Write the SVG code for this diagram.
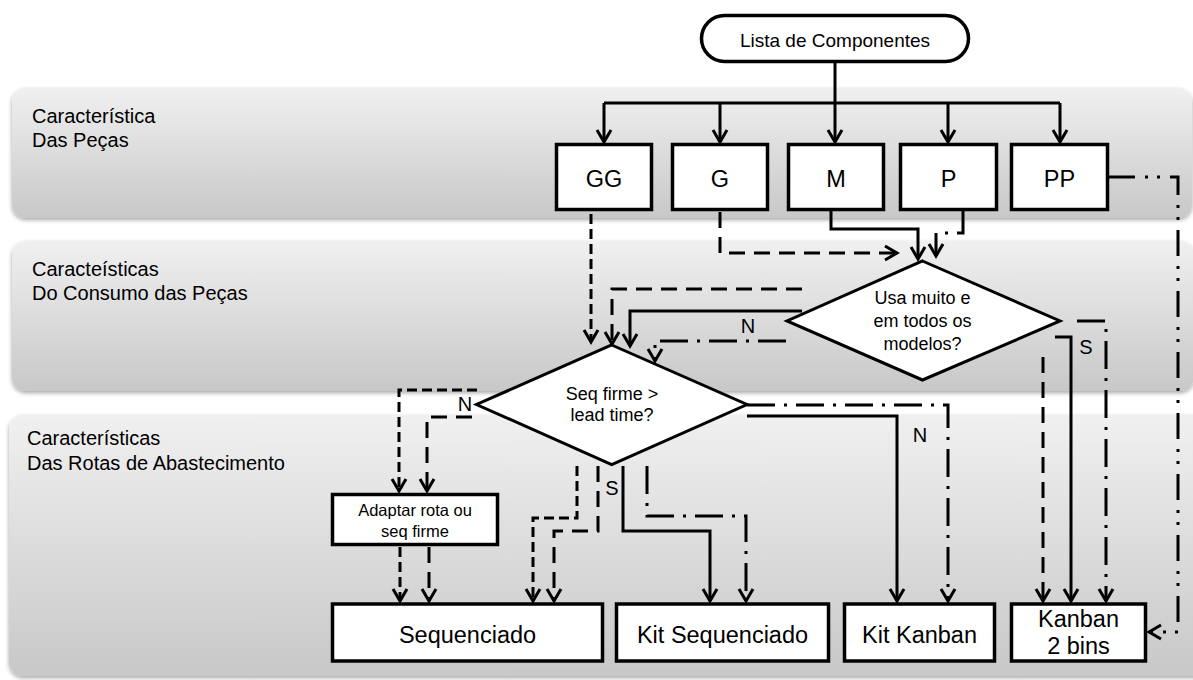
<svg xmlns="http://www.w3.org/2000/svg" width="1193" height="680" viewBox="0 0 1193 680">
  <defs>
    <linearGradient id="bandFill" x1="0" y1="0" x2="0" y2="1">
      <stop offset="0" stop-color="#f0f0f0"/>
      <stop offset="1" stop-color="#c8c8c8"/>
    </linearGradient>
    <filter id="bandShadow" x="-2%" y="-10%" width="104%" height="125%">
      <feDropShadow dx="0" dy="2" stdDeviation="2" flood-color="#000" flood-opacity="0.35"/>
    </filter>
    <marker id="arrow" viewBox="-16 -10 19 20" markerWidth="19" markerHeight="20" refX="0" refY="0" orient="auto" markerUnits="userSpaceOnUse">
      <path d="M-12,-7 L0,0 L-12,7" fill="none" stroke="#000" stroke-width="3"/>
    </marker>
    <style>
      .band { fill: url(#bandFill); filter: url(#bandShadow); }
      .band-label { font-family: "Liberation Sans", Arial, sans-serif; font-size: 20px; fill: #000; }
      .box { fill: #fff; stroke: #000; stroke-width: 3.5; }
      .dec { fill: #fff; stroke: #000; stroke-width: 3; stroke-linejoin: miter; }
      .t { font-family: "Liberation Sans", Arial, sans-serif; fill: #000; text-anchor: middle; }
      .big { font-size: 23.5px; }
      .mid { font-size: 18px; }
      .yn { font-family: "Liberation Sans", Arial, sans-serif; font-size: 20px; fill: #000; text-anchor: middle; }
      .c { fill: none; stroke: #000; stroke-width: 3; }
      .arr { marker-end: url(#arrow); }
      .dash-s { stroke-dasharray: 10 5; }
      .dash-l { stroke-dasharray: 16 9; }
      .dashdot { stroke-dasharray: 28 9 3 9; }
      .dashdotdot { stroke-dasharray: 26 10 3 9 3 10; }
    </style>
  </defs>

  <!-- swim-lane bands -->
  <g id="lanes">
    <rect class="band" x="12" y="88" width="1180" height="130" rx="14"/>
    <rect class="band" x="12" y="241" width="1182" height="150" rx="14"/>
    <rect class="band" x="9" y="415" width="1200" height="261" rx="14"/>
    <text class="band-label" x="32" y="123">Característica</text>
    <text class="band-label" x="32" y="147">Das Peças</text>
    <text class="band-label" x="32" y="276">Caracteísticas</text>
    <text class="band-label" x="32" y="300">Do Consumo das Peças</text>
    <text class="band-label" x="27" y="445">Características</text>
    <text class="band-label" x="27" y="470">Das Rotas de Abastecimento</text>
  </g>

  <!-- connectors -->
  <g id="connectors">
    <!-- distribution from the component list -->
    <path class="c" d="M835,62 V103"/>
    <path class="c" d="M604,103 H1060"/>
    <path class="c arr" d="M604,103 V142"/>
    <path class="c arr" d="M720,103 V142"/>
    <path class="c arr" d="M835,103 V142"/>
    <path class="c arr" d="M948,103 V142"/>
    <path class="c arr" d="M1060,103 V142"/>

    <!-- parts to decisions -->
    <path class="c arr dash-s" d="M591,214 V342"/>
    <path class="c arr dash-l" d="M720,212 V253 H897"/>
    <path class="c arr" d="M831,211 V229 H918 V259"/>
    <path class="c arr dashdot" d="M963,211 V233 H936 V256"/>
    <path class="c arr dashdotdot" d="M1109,177 H1178 V632 H1149"/>

    <!-- usage decision: N branch -->
    <path class="c arr dash-l" d="M802,289 H612 V344"/>
    <path class="c arr" d="M802,311 H630 V346"/>
    <path class="c arr dashdot" d="M786,341 H655 V361"/>

    <!-- usage decision: S branch -->
    <path class="c arr dashdot" d="M1077,321 H1106 V601"/>
    <path class="c arr" d="M1055,337 H1071 V601"/>
    <path class="c arr dash-l" d="M1043,357 V601"/>

    <!-- sequence decision: N to the left -->
    <path class="c arr dash-s" d="M477,390 H399 V491"/>
    <path class="c arr dash-l" d="M472,417 H427 V491"/>
    <path class="c arr dash-s" d="M400,547 V601"/>
    <path class="c arr dash-l" d="M429,547 V601"/>

    <!-- sequence decision: S downward -->
    <path class="c arr dash-s" d="M577,466 V518 H533 V601"/>
    <path class="c arr dash-l" d="M598,466 V531 H554 V601"/>
    <path class="c arr" d="M623,466 V531 H710 V601"/>
    <path class="c arr dashdot" d="M647,466 V516 H746 V601"/>

    <!-- sequence decision: N to the right -->
    <path class="c arr dashdot" d="M747,405 H948 V601"/>
    <path class="c arr" d="M747,416 H897 V601"/>

    <!-- branch labels -->
    <text class="yn" x="748" y="333">N</text>
    <text class="yn" x="1086" y="354">S</text>
    <text class="yn" x="465" y="411">N</text>
    <text class="yn" x="612" y="495">S</text>
    <text class="yn" x="920" y="442">N</text>
  </g>

  <g id="start">
    <rect class="box" x="701.5" y="15.5" width="267" height="46" rx="23"/>
    <text class="t" x="835" y="47" font-size="19">Lista de Componentes</text>
  </g>

  <g id="part-gg">
    <rect class="box" x="556.5" y="144.5" width="95" height="65"/>
    <text class="t big" x="604" y="187">GG</text>
  </g>
  <g id="part-g">
    <rect class="box" x="672.5" y="144.5" width="95" height="65"/>
    <text class="t big" x="720" y="187">G</text>
  </g>
  <g id="part-m">
    <rect class="box" x="788.5" y="144.5" width="95" height="65"/>
    <text class="t big" x="836" y="187">M</text>
  </g>
  <g id="part-p">
    <rect class="box" x="900.5" y="144.5" width="96" height="65"/>
    <text class="t big" x="948.5" y="187">P</text>
  </g>
  <g id="part-pp">
    <rect class="box" x="1011.5" y="144.5" width="96" height="65"/>
    <text class="t big" x="1059.5" y="187">PP</text>
  </g>

  <g id="decision-usage">
    <polygon class="dec" points="922.5,261 1060,321 922.5,380 787,321"/>
    <text class="t mid" x="922.5" y="304">Usa muito e</text>
    <text class="t mid" x="922.5" y="327">em todos os</text>
    <text class="t mid" x="922.5" y="350">modelos?</text>
  </g>

  <g id="decision-sequence">
    <polygon class="dec" points="611.7,345 747,404.5 611.7,464.5 476.5,404.5"/>
    <text class="t mid" x="612" y="400">Seq firme &gt;</text>
    <text class="t mid" x="612" y="421">lead time?</text>
  </g>

  <g id="adapt">
    <rect class="box" x="332.5" y="494.5" width="165" height="50"/>
    <text class="t" x="415" y="516" font-size="16.5">Adaptar rota ou</text>
    <text class="t" x="415" y="537" font-size="16.5">seq firme</text>
  </g>

  <g id="sequenciado">
    <rect class="box" x="332.5" y="604" width="270" height="57"/>
    <text class="t big" x="467.5" y="643">Sequenciado</text>
  </g>
  <g id="kit-sequenciado">
    <rect class="box" x="616.5" y="604" width="212" height="57"/>
    <text class="t big" x="722.5" y="643">Kit Sequenciado</text>
  </g>
  <g id="kit-kanban">
    <rect class="box" x="844.5" y="604" width="150" height="57"/>
    <text class="t big" x="919.5" y="643">Kit Kanban</text>
  </g>
  <g id="kanban-2-bins">
    <rect class="box" x="1011.5" y="604" width="134" height="57"/>
    <text class="t big" x="1078.5" y="627">Kanban</text>
    <text class="t big" x="1078.5" y="654">2 bins</text>
  </g>
</svg>
